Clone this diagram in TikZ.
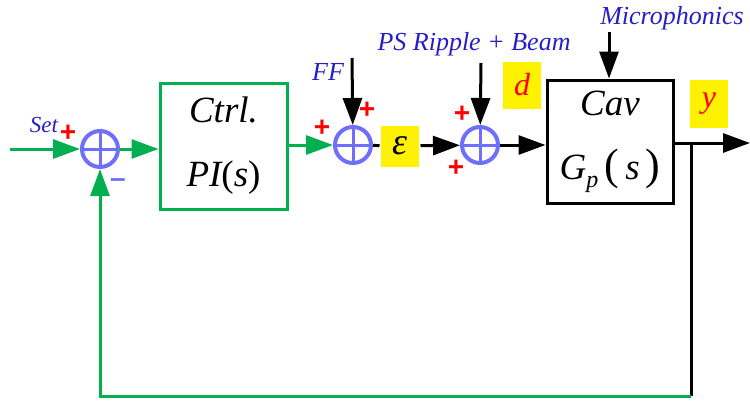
\documentclass[tikz,border=0pt]{standalone}
\usepackage{fontspec}
\setmainfont{Liberation Serif}
\newfontfamily\signfont{Liberation Sans}
\usetikzlibrary{arrows.meta}
\definecolor{pgreen}{RGB}{0,176,80}
\definecolor{sumblue}{RGB}{110,110,255}
\definecolor{labblue}{RGB}{40,30,200}
\begin{document}
\begin{tikzpicture}[
    x=1pt, y=-1pt,
    >={Triangle[length=27pt,width=19pt]},
    line width=3pt,
    sum/.style={circle, draw=sumblue, line width=4pt, minimum size=36pt, inner sep=0pt,
      path picture={\draw[sumblue, line width=3pt]
        (path picture bounding box.north) -- (path picture bounding box.south)
        (path picture bounding box.west) -- (path picture bounding box.east);}},
    blk/.style={draw, line width=3pt, inner sep=0pt, align=center,
      font=\fontsize{37}{64}\selectfont\itshape},
    lab/.style={text=labblue, inner sep=0pt, font=\fontsize{26}{28}\selectfont\itshape},
    sig/.style={text=red, inner sep=0pt, font=\fontsize{28}{28}\signfont\bfseries},
    tag/.style={fill=yellow, minimum width=38pt, inner sep=0pt,
      font=\fontsize{32}{32}\selectfont\itshape}
  ]
    \useasboundingbox (0,0) rectangle (750,400);

    \node[sum] (sumA) at (100,149) {};
    \node[blk, draw=pgreen, minimum width=127pt, minimum height=126pt] (ctrl) at (223.5,146)
      {Ctrl.\\PI{\upshape(}s{\upshape)}};
    \node[sum] (sumB) at (353,145) {};
    \node[tag, minimum height=41pt, font=\fontsize{38}{38}\selectfont\itshape] (eps) at (400,146) {ε};
    \node[sum] (sumC) at (480,145) {};
    \node[blk, minimum width=126pt, minimum height=123pt] (cav) at (610,141.5)
      {Cav\\G\raisebox{-8pt}{\fontsize{24}{24}\selectfont p}\,{\upshape\fontsize{44}{44}\selectfont(}\,s\,{\upshape\fontsize{44}{44}\selectfont)}};

    \node[tag, minimum height=47pt, text=red] (dtag) at (522,85) {d};
    \node[tag, minimum height=48pt, text=red] (ytag) at (709,104) {y};

    \node[lab, font=\fontsize{23}{25}\selectfont\itshape] (set) at (44,125) {Set};
    \node[lab] (ff) at (328,72) {FF};
    \node[lab] (ps) at (474,44) {PS Ripple + Beam};
    \node[lab] (mic) at (672,18) {Microphonics};

    \node[sig] (pA) at (68,133) {+};
    \node[sig, text=sumblue] (mA) at (118,183) {–};
    \node[sig] (pB1) at (322,128) {+};
    \node[sig] (pB2) at (367,110) {+};
    \node[sig] (pC1) at (462,114) {+};
    \node[sig] (pC2) at (456,168) {+};

    \coordinate (in) at (10,149);
    \coordinate (ffin) at (352,58);
    \coordinate (psin) at (481,63);
    \coordinate (micin) at (609,32);
    \coordinate (out) at (750,143);
    \coordinate (branch) at (691,143);
    \coordinate (low) at (691,396);

    \draw[->, pgreen] (in) -- (sumA);
    \draw[->, pgreen] (sumA) -- (ctrl.west |- sumA);
    \draw[->, pgreen] (ctrl.east |- sumB) -- (sumB);
    \draw (sumB) -- (eps);
    \draw[->] (eps) -- (sumC);
    \draw[->] (sumC) -- (cav.west |- sumC);
    \draw[->] (cav.east |- out) -- (out);
    \draw[->] (ffin) -- (sumB);
    \draw[->] (psin) -- (sumC);
    \draw[->] (micin) -- (micin |- cav.north);
    \draw (branch) -- (low);
    \draw[->, pgreen] (low) -- (sumA |- low) -- (sumA);
  \end{tikzpicture}
\end{document}
